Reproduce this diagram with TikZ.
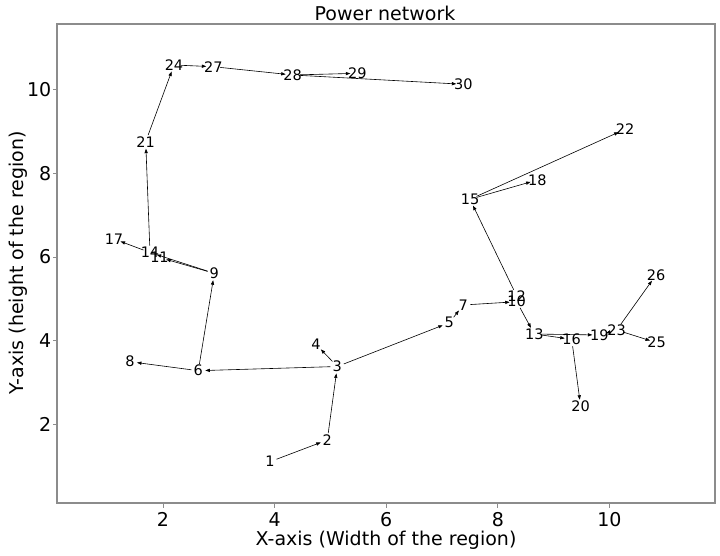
\documentclass[tikz,border=0pt]{standalone}
\usepackage{fontspec}
\setmainfont{DejaVu Sans}
\usetikzlibrary{arrows.meta}
\tikzset{
  lab/.style={inner sep=0pt, font=\fontsize{14.5}{16}\selectfont},
  edge/.style={line width=0.6pt, black, -{Triangle[length=4.5pt,width=3.2pt]}, shorten >=7pt, shorten <=7pt},
  frame/.style={draw=black!45, line width=1.1pt},
  tickmark/.style={draw=black!45, line width=0.8pt},
  ticklab/.style={inner sep=0pt, font=\fontsize{19}{21}\selectfont},
  axlab/.style={inner sep=0pt, font=\fontsize{19}{21}\selectfont},
}
\begin{document}
\begin{tikzpicture}[x=1pt,y=-1pt]
\useasboundingbox (0,0) rectangle (720,556);
\fill[white] (0,0) rectangle (720,556);
% axes frame
\draw[frame] (57,24) rectangle (715,503);
% x ticks
\foreach \px/\v in {163/2,274.6/4,386.2/6,497.8/8,609.4/10}{
  \draw[tickmark] (\px,503) -- (\px,507.5);
  \node[ticklab] at (\px,519.5) {\v};
}
% y ticks
\foreach \py/\v in {424.5/2,340.7/4,257/6,173.2/8,89.4/10}{
  \draw[tickmark] (57,\py) -- (52.5,\py);
  \node[ticklab, anchor=east] at (51.5,\py) {\v};
}
\node[axlab] (xl) at (386,540) {X-axis (Width of the region)};
\node[axlab, rotate=90] (yl) at (18,263) {Y-axis (height of the region)};
\node[axlab] (tt) at (385,13) {Power network};
% nodes
\node[lab] (n1) at (270,461.7) {1};
\node[lab] (n2) at (327.3,440) {2};
\node[lab] (n3) at (337.3,366.5) {3};
\node[lab] (n4) at (316,344.3) {4};
\node[lab] (n5) at (449.3,322.7) {5};
\node[lab] (n6) at (198.3,370.7) {6};
\node[lab] (n7) at (463.3,305) {7};
\node[lab] (n8) at (130,361.7) {8};
\node[lab] (n9) at (214.3,273.3) {9};
\node[lab] (n10) at (516.7,301.7) {10};
\node[lab] (n11) at (159.5,257.5) {11};
\node[lab] (n12) at (516.7,296) {12};
\node[lab] (n13) at (534.3,334) {13};
\node[lab] (n14) at (150,252.5) {14};
\node[lab] (n15) at (470,199.3) {15};
\node[lab] (n16) at (571.7,339.3) {16};
\node[lab] (n17) at (114,239) {17};
\node[lab] (n18) at (537.3,180) {18};
\node[lab] (n19) at (599.3,335) {19};
\node[lab] (n20) at (580.7,406.7) {20};
\node[lab] (n21) at (145.7,141.7) {21};
\node[lab] (n22) at (625,129.3) {22};
\node[lab] (n23) at (616.7,330) {23};
\node[lab] (n24) at (174,65) {24};
\node[lab] (n25) at (656.7,342.7) {25};
\node[lab] (n26) at (656,275) {26};
\node[lab] (n27) at (213.3,66.7) {27};
\node[lab] (n28) at (292.7,75) {28};
\node[lab] (n29) at (357.3,73.3) {29};
\node[lab] (n30) at (463.3,84.3) {30};
% edges
\foreach \a/\b in {1/2,2/3,3/4,3/5,3/6,5/7,6/8,6/9,7/10,9/11,9/14,14/17,14/21,21/24,24/27,27/28,28/29,28/30,12/15,10/13,15/18,15/22,13/16,13/19,16/20,23/19,23/26,23/25}{
  \draw[edge] (n\a.center) -- (n\b.center);
}
\end{tikzpicture}
\end{document}
